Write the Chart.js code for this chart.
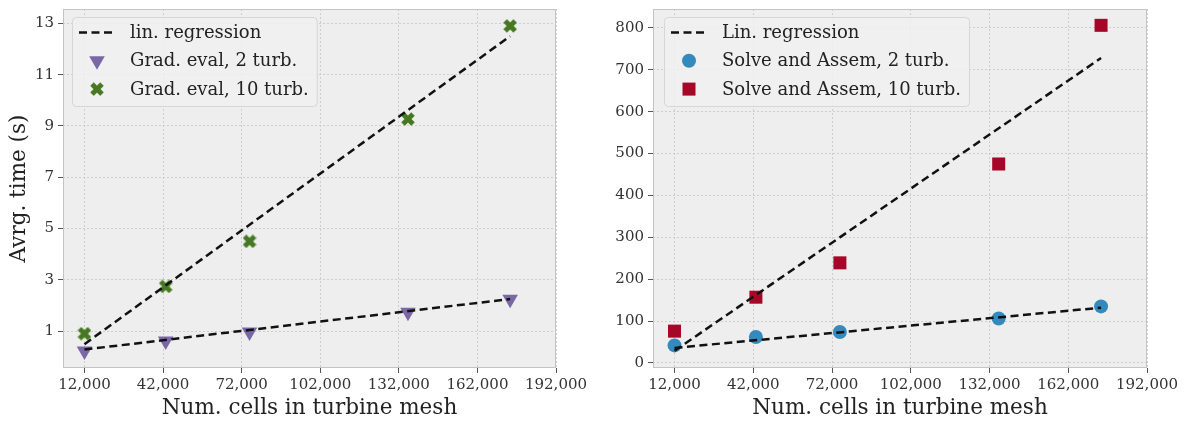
<!DOCTYPE html>
<html>
<head>
<meta charset="utf-8">
<script src="https://cdn.jsdelivr.net/npm/chart.js@4.4.1/dist/chart.umd.min.js"></script>
<style>
  html, body { margin: 0; padding: 0; background: #fff; overflow: hidden; }
  #wrap { position: relative; width: 1188px; height: 421px; overflow: hidden; }
  canvas { position: absolute; top: -4px; }
</style>
</head>
<body>
<div id="wrap">
  <canvas id="gradChart" width="594" height="425" style="left:0"></canvas>
  <canvas id="solveChart" width="594" height="425" style="left:594px"></canvas>
</div>
<script>
// mesh sizes (x axis of both panels)
const cells = [12000, 43000, 75000, 135500, 174500];
const fitCells = [12000, 174500];

// left panel: gradient evaluation times (s)
const gradTwo = [0.22, 0.61, 0.96, 1.73, 2.24];
const gradTen = [0.9, 2.74, 4.5, 9.27, 12.9];
const gradTwoFit = [0.28, 2.25];
const gradTenFit = [0.49, 12.5];

// right panel: solve and assemble times (s)
const solveTwo = [42, 62, 74, 106, 135];
const solveTen = [76, 157, 239, 475, 806];
const solveTwoFit = [36, 132];
const solveTenFit = [29, 728];

// tick labels
const xTicks = [12000, 42000, 72000, 102000, 132000, 162000, 192000];
const gradTicks = [1, 3, 5, 7, 9, 11, 13];
const solveTicks = [0, 100, 200, 300, 400, 500, 600, 700, 800];

const FONT = "'DejaVu Serif', 'Liberation Serif', serif";
const BLUE = '#348ABD', RED = '#A60628', PURPLE = '#7A68A6', GREEN = '#467821';

// filled "X" marker like matplotlib's 'X'
function makeXMarker(color) {
  const c = document.createElement('canvas');
  c.width = 14; c.height = 14;
  const g = c.getContext('2d');
  g.strokeStyle = color;
  g.lineWidth = 5;
  g.lineCap = 'butt';
  g.beginPath();
  g.moveTo(2, 2); g.lineTo(12, 12);
  g.moveTo(12, 2); g.lineTo(2, 12);
  g.stroke();
  return c;
}
const xMarker = makeXMarker(GREEN);

const pts = (xs, ys) => xs.map((x, i) => ({ x: x, y: ys[i] }));

function fitSet(ys) {
  return {
    type: 'line', data: pts(fitCells, ys), borderColor: '#111', borderWidth: 2.5,
    borderDash: [8, 4.5], pointRadius: 0, fill: false, order: 0
  };
}

// plot background, frame and in-axes legend
const panelPlugin = {
  id: 'panel',
  beforeDraw(chart) {
    const a = chart.chartArea, ctx = chart.ctx;
    ctx.save();
    ctx.fillStyle = '#eeeeee';
    ctx.fillRect(a.left, a.top, a.right - a.left, a.bottom - a.top);
    ctx.restore();
  },
  afterDraw(chart) {
    const a = chart.chartArea, ctx = chart.ctx;
    ctx.save();
    ctx.strokeStyle = '#c4c4c4';
    ctx.lineWidth = 1;
    ctx.strokeRect(a.left + 0.5, a.top + 0.5, a.right - a.left - 1, a.bottom - a.top - 1);

    const items = chart.options.plugins.panel.items;
    ctx.font = '18px ' + FONT;
    let tw = 0;
    items.forEach(it => { tw = Math.max(tw, ctx.measureText(it.label).width); });
    const bx = a.left + chart.options.plugins.panel.dx, by = a.top + 8;
    const bw = tw + 66, bh = 89;
    ctx.beginPath();
    ctx.roundRect(bx + 0.5, by + 0.5, bw, bh, 4);
    ctx.fillStyle = 'rgba(240,240,240,0.85)';
    ctx.fill();
    ctx.strokeStyle = '#d6d6d6';
    ctx.stroke();

    items.forEach((it, i) => {
      const cy = by + 15.5 + i * 28.3;
      const mx = bx + 25;
      if (it.kind === 'line') {
        ctx.strokeStyle = '#111'; ctx.lineWidth = 2.5; ctx.setLineDash([8, 4.5]);
        ctx.beginPath(); ctx.moveTo(bx + 7, cy); ctx.lineTo(bx + 44, cy); ctx.stroke();
        ctx.setLineDash([]);
      } else if (it.kind === 'triangle') {
        const r = 9;
        ctx.fillStyle = it.color; ctx.beginPath();
        ctx.moveTo(mx, cy + r);
        ctx.lineTo(mx - r * 0.866, cy - r / 2);
        ctx.lineTo(mx + r * 0.866, cy - r / 2);
        ctx.closePath(); ctx.fill();
      } else if (it.kind === 'x') {
        ctx.drawImage(xMarker, mx - 7, cy - 7);
      } else if (it.kind === 'circle') {
        ctx.fillStyle = it.color; ctx.beginPath();
        ctx.arc(mx, cy, 7, 0, Math.PI * 2); ctx.fill();
      } else if (it.kind === 'rect') {
        ctx.fillStyle = it.color; ctx.fillRect(mx - 6.5, cy - 6.5, 13, 13);
      }
      ctx.fillStyle = '#222';
      ctx.textBaseline = 'middle';
      ctx.fillText(it.label, bx + 58, cy + 1);
    });
    ctx.restore();
  }
};

function axes(yMin, yMax, yTickVals, yTitle, yWidth) {
  const grid = { color: '#c6c6c6', lineWidth: 0.8, tickColor: '#555', tickLength: 5, tickBorderDash: [], tickWidth: 1 };
  const tickFont = { family: FONT, size: 15 };
  return {
    x: {
      type: 'linear', min: 3800, max: 192000,
      grid: grid, border: { display: false, dash: [2, 2] },
      afterBuildTicks: s => { s.ticks = xTicks.map(v => ({ value: v })); },
      afterFit: s => { s.height = 53; },
      ticks: { color: '#333', font: tickFont, padding: 3, maxRotation: 0, autoSkip: false,
               callback: v => v.toLocaleString('en-US') },
      title: { display: true, text: 'Num. cells in turbine mesh', color: '#222',
               font: { family: FONT, size: 21.5 }, padding: { top: 0, bottom: 0 } }
    },
    y: {
      type: 'linear', min: yMin, max: yMax,
      grid: grid, border: { display: false, dash: [2, 2] },
      afterBuildTicks: s => { s.ticks = yTickVals.map(v => ({ value: v })); },
      afterFit: s => { s.width = yWidth; },
      ticks: { color: '#333', font: tickFont, padding: 4, autoSkip: false },
      title: { display: !!yTitle, text: yTitle, color: '#222',
               font: { family: FONT, size: 21.5 }, padding: { top: 7, bottom: 5 } }
    }
  };
}

new Chart(document.getElementById('gradChart'), {
  type: 'scatter',
  data: {
    datasets: [
      fitSet(gradTwoFit),
      fitSet(gradTenFit),
      { label: 'Grad. eval, 2 turb.', data: pts(cells, gradTwo), pointStyle: 'triangle', rotation: 180,
        pointRadius: 9, backgroundColor: PURPLE, borderWidth: 0, order: 1 },
      { label: 'Grad. eval, 10 turb.', data: pts(cells, gradTen), pointStyle: xMarker,
        pointRadius: 7, backgroundColor: GREEN, borderWidth: 0, order: 1 }
    ]
  },
  options: {
    responsive: false, animation: false, events: [],
    layout: { padding: { top: 5, right: 38, left: 0, bottom: 0 } },
    scales: axes(-0.44, 13.56, gradTicks, 'Avrg. time (s)', 63),
    plugins: {
      legend: { display: false }, tooltip: { enabled: false },
      panel: { dx: 9, items: [
        { kind: 'line', label: 'lin. regression' },
        { kind: 'triangle', color: PURPLE, label: 'Grad. eval, 2 turb.' },
        { kind: 'x', color: GREEN, label: 'Grad. eval, 10 turb.' }
      ] }
    }
  },
  plugins: [panelPlugin]
});

new Chart(document.getElementById('solveChart'), {
  type: 'scatter',
  data: {
    datasets: [
      fitSet(solveTwoFit),
      fitSet(solveTenFit),
      { label: 'Solve and Assem, 2 turb.', data: pts(cells, solveTwo), pointStyle: 'circle',
        pointRadius: 7, backgroundColor: BLUE, borderWidth: 0, order: 1 },
      { label: 'Solve and Assem, 10 turb.', data: pts(cells, solveTen), pointStyle: 'rect',
        pointRadius: 9.2, backgroundColor: RED, borderWidth: 0, order: 1 }
    ]
  },
  options: {
    responsive: false, animation: false, events: [],
    layout: { padding: { top: 5, right: 41, left: 0, bottom: 0 } },
    scales: axes(-12, 845, solveTicks, '', 59),
    plugins: {
      legend: { display: false }, tooltip: { enabled: false },
      panel: { dx: 11, items: [
        { kind: 'line', label: 'Lin. regression' },
        { kind: 'circle', color: BLUE, label: 'Solve and Assem, 2 turb.' },
        { kind: 'rect', color: RED, label: 'Solve and Assem, 10 turb.' }
      ] }
    }
  },
  plugins: [panelPlugin]
});
</script>
</body>
</html>
